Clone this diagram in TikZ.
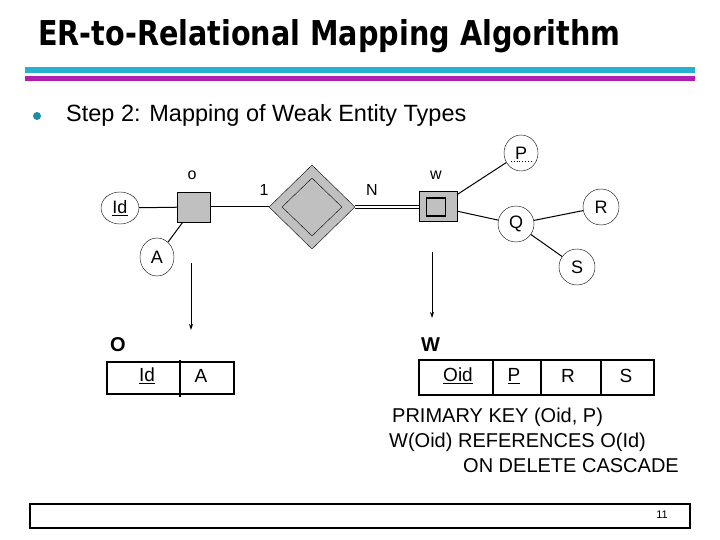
\documentclass[tikz,border=0pt]{standalone}
\usepackage{fontspec}
\setmainfont{Liberation Sans}
\newfontfamily\titlefont{DejaVu Sans}
\usetikzlibrary{shapes.geometric,arrows.meta}
\definecolor{ergray}{RGB}{192,192,192}
\definecolor{cyanbar}{RGB}{40,176,208}
\definecolor{magbar}{RGB}{176,32,176}
\begin{document}
\begin{tikzpicture}[x=1pt,y=-1pt,
  attr/.style={ellipse,draw,thin,inner sep=0pt,minimum width=36pt,minimum height=36pt,font=\fontsize{18}{21}\selectfont},
  ent/.style={draw,line width=0.9pt,fill=ergray,inner sep=0pt},
  lbl/.style={font=\fontsize{16}{19}\selectfont,inner sep=0pt},
  txt/.style={font=\fontsize{20}{24}\selectfont,inner sep=0pt,anchor=west},
  conn/.style={draw,line width=1pt},
  arr/.style={-{Stealth[length=6pt,width=4pt]},line width=1pt}]
\useasboundingbox (0,0) rectangle (720,540);
% title
\node[anchor=base west,inner sep=0pt] (title) at (38,46) {\resizebox{582pt}{26pt}{\titlefont\bfseries ER-to-Relational Mapping Algorithm}};
\fill[cyanbar] (25,67) rectangle (695,73);
\fill[magbar] (25,76) rectangle (695,81);
\fill[cyanbar!80!black] (37,116) circle (4);
\node[anchor=west,inner sep=0pt,font=\fontsize{23.5}{28}\selectfont] (step) at (66,115) {Step 2: Mapping of Weak Entity Types};
% ER diagram
\node[ent,minimum width=33pt,minimum height=30pt] (O) at (194,207) {};
\node[lbl] (ol) at (192,175) {o};
\node[attr,minimum width=38pt,minimum height=32pt] (Id) at (120,208) {\underline{Id}};
\node[attr,minimum width=34pt,minimum height=38pt] (A) at (157,257) {A};
\node[diamond,draw,fill=ergray,thin,inner sep=0pt,minimum width=86pt,minimum height=84pt] (R1) at (312,207) {};
\node[diamond,draw,thin,inner sep=0pt,minimum width=60pt,minimum height=58pt] (R1i) at (312,207) {};
\node[lbl] (one) at (264,190) {1};
\node[lbl] (n) at (372,190) {N};
\node[ent,line width=1pt,minimum width=38pt,minimum height=30pt] (W) at (438,207) {};
\node[draw,line width=1.2pt,inner sep=0pt,minimum width=19pt,minimum height=18pt] (Wi) at (436,207) {};
\node[lbl] (wl) at (436,175) {w};
\node[attr,minimum width=34pt,minimum height=36pt] (P) at (521,153) {P};
\draw[dotted,thick] (P.center)++(-10,8) -- ++(21,0);
\node[attr] (Q) at (516,224) {Q};
\node[attr] (R) at (601,207) {R};
\node[attr] (S) at (577,267) {S};
\draw[conn] (Id) -- (O);
\draw[conn] (A) -- (O);
\draw[conn] (O.east) -- (R1.west);
\draw[line width=0.8pt,double,double distance=2.5pt] (R1.east) -- (W.west);
\draw[conn] (W) -- (P);
\draw[conn] (W) -- (Q);
\draw[conn] (Q) -- (R);
\draw[conn] (Q) -- (S);
% arrows
\coordinate (a1s) at (191,263); \coordinate (a1e) at (191,330);
\coordinate (a2s) at (432,252); \coordinate (a2e) at (432,318);
\draw[arr] (a1s) -- (a1e);
\draw[arr] (a2s) -- (a2e);
% relations
\node[anchor=west,inner sep=0pt,font=\fontsize{20}{24}\selectfont\bfseries] (Ot) at (110,345) {O};
\draw[line width=1.2pt] (107,362) rectangle (234,394);
\draw[line width=1.2pt] (180,360) -- (180,397);
\node[lbl,font=\fontsize{19}{22}\selectfont] (c1) at (147,376) {\underline{Id}};
\node[lbl,font=\fontsize{19}{22}\selectfont] (c2) at (201,376) {A};
\node[anchor=west,inner sep=0pt,font=\fontsize{20}{24}\selectfont\bfseries] (Wt) at (421,345) {W};
\draw[line width=1.2pt] (419,360) rectangle (654,395);
\draw[line width=1.2pt] (493,360) -- (493,395);
\draw[line width=1.2pt] (541,360) -- (541,395);
\draw[line width=1.2pt] (601,360) -- (601,395);
\node[lbl,font=\fontsize{19}{22}\selectfont] (d1) at (458,376) {\underline{Oid}};
\node[lbl,font=\fontsize{19}{22}\selectfont] (d2) at (514,376) {\underline{P}};
\node[lbl,font=\fontsize{19}{22}\selectfont] (d3) at (568,376) {R};
\node[lbl,font=\fontsize{19}{22}\selectfont] (d4) at (626,376) {S};
\node[txt] (t1) at (392,417) {PRIMARY KEY (Oid, P)};
\node[txt] (t2) at (389,442) {W(Oid) REFERENCES O(Id)};
\node[txt] (t3) at (463,466) {ON DELETE CASCADE};
% footer
\draw[line width=1.5pt] (30,504) -- (690,504);
\draw[line width=1.2pt] (30,504) rectangle (690,528);
\node[font=\fontsize{11}{13}\selectfont,inner sep=0pt] (pg) at (662,515) {11};
\end{tikzpicture}
\end{document}
